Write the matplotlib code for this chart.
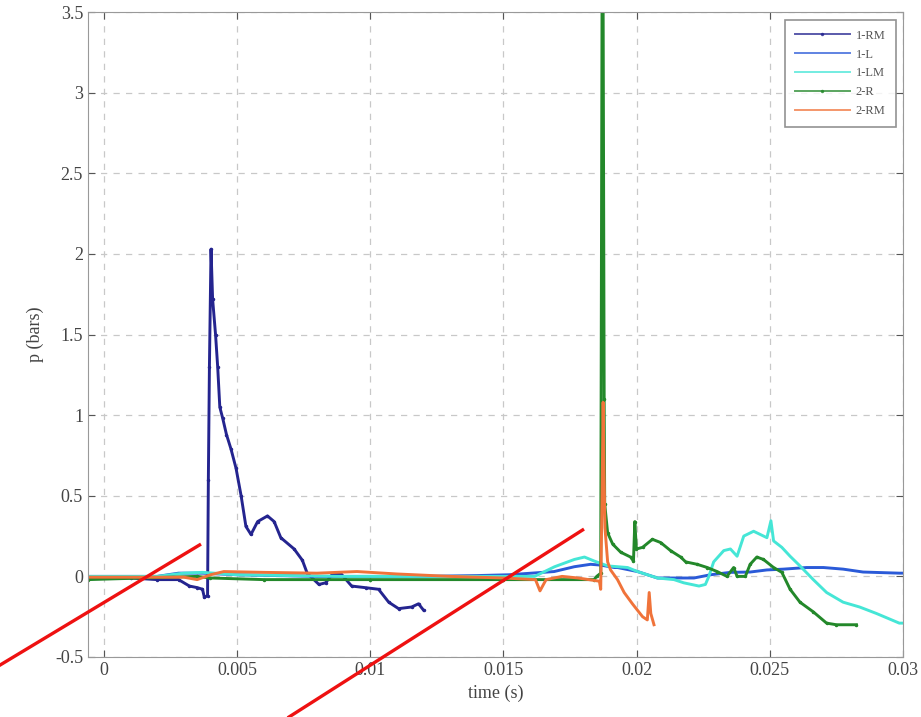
import matplotlib
matplotlib.use("Agg")
import matplotlib.pyplot as plt

plt.rcParams['font.family'] = ['Liberation Serif', 'DejaVu Serif']

# 1-RM
t_1rm = [-0.0006, 0.001, 0.002, 0.0028, 0.00321, 0.00351, 0.0037, 0.00377, 0.00389,
         0.00392, 0.00396, 0.00402, 0.00408, 0.00419, 0.00427, 0.00435, 0.00446,
         0.0046, 0.00477, 0.00496, 0.00515, 0.00533, 0.00552, 0.00577, 0.00614,
         0.00639, 0.00664, 0.00714, 0.00745, 0.00763, 0.00807, 0.00832, 0.00856,
         0.00888, 0.0093, 0.00982, 0.01031, 0.01069, 0.01106, 0.01155, 0.01181, 0.012]
p_1rm = [-0.01, -0.01, -0.02, -0.02, -0.06, -0.07, -0.08, -0.13, -0.12,
         0.6, 1.3, 2.03, 1.72, 1.50, 1.30, 1.05, 0.98,
         0.88, 0.79, 0.67, 0.50, 0.31, 0.26, 0.34, 0.375,
         0.34, 0.24, 0.17, 0.10, 0.02, -0.05, -0.04, 0.01,
         0.02, -0.06, -0.07, -0.08, -0.16, -0.20, -0.19, -0.17, -0.21]

# 1-L
t_1l = [-0.0006, 0.002, 0.0028, 0.0037, 0.005, 0.008, 0.012, 0.014, 0.0152, 0.0169,
        0.01766, 0.01827, 0.01865, 0.01916, 0.01928, 0.02003, 0.02078, 0.02146,
        0.02215, 0.02277, 0.02352, 0.02426, 0.02489, 0.02551, 0.02638, 0.02701,
        0.02775, 0.0285, 0.02986, 0.03]
p_1l = [0.0, 0.0, 0.02, 0.02, 0.01, 0.0, 0.0, 0.005, 0.01, 0.03,
        0.06, 0.075, 0.07, 0.055, 0.055, 0.03, -0.01, -0.01,
        -0.01, 0.01, 0.025, 0.027, 0.04, 0.045, 0.055, 0.055,
        0.045, 0.027, 0.02, 0.02]

# 1-LM
t_1lm = [-0.0006, 0.002, 0.003, 0.0037, 0.005, 0.009, 0.013, 0.01617, 0.01692,
         0.01766, 0.01804, 0.01841, 0.01891, 0.01966, 0.02003, 0.02078, 0.0214,
         0.02177, 0.02234, 0.02258, 0.02271, 0.02289, 0.02327, 0.02352, 0.02377,
         0.02402, 0.02439, 0.02489, 0.02504, 0.02514, 0.02545, 0.02576, 0.02613,
         0.02663, 0.02713, 0.02775, 0.02837, 0.029, 0.02986, 0.03]
p_1lm = [0.0, 0.0, 0.02, 0.025, 0.01, 0.0, 0.0, 0.0, 0.06,
         0.105, 0.12, 0.095, 0.065, 0.055, 0.03, -0.01, -0.02,
         -0.04, -0.06, -0.05, 0.0, 0.09, 0.16, 0.17, 0.125,
         0.25, 0.28, 0.24, 0.345, 0.22, 0.18, 0.125, 0.065,
         -0.02, -0.10, -0.16, -0.19, -0.23, -0.29, -0.29]

# 2-R
t_2r = [-0.0006, 0.0035, 0.004, 0.006, 0.01, 0.015, 0.0184, 0.0185, 0.01865, 0.0187,
        0.01874, 0.01878, 0.0188, 0.01891, 0.0191, 0.0194, 0.01977, 0.01988,
        0.01993, 0.01999, 0.02022, 0.02059, 0.0209, 0.02127, 0.02165, 0.02184,
        0.02227, 0.02265, 0.02302, 0.02339, 0.02364, 0.02377, 0.02408, 0.02426,
        0.02451, 0.02476, 0.02514, 0.02545, 0.02576, 0.02613, 0.02663, 0.02713,
        0.0275, 0.02825]
p_2r = [-0.02, 0.0, -0.01, -0.02, -0.02, -0.02, -0.02, 0.0, 0.02, 3.6,
        3.6, 1.1, 0.45, 0.27, 0.2, 0.15, 0.12, 0.095,
        0.34, 0.17, 0.18, 0.23, 0.21, 0.16, 0.12, 0.09,
        0.075, 0.055, 0.03, 0.0, 0.055, 0.0, 0.0, 0.075,
        0.12, 0.105, 0.055, 0.025, -0.08, -0.16, -0.22, -0.29,
        -0.30, -0.30]

# 2-RM
t_2rm = [-0.0006, 0.003, 0.0035, 0.004, 0.0045, 0.006, 0.008, 0.0095, 0.011, 0.013,
         0.015, 0.0162, 0.01637, 0.0166, 0.0172, 0.0178, 0.0186, 0.01865, 0.0187,
         0.01874, 0.01878, 0.01881, 0.01891, 0.01902, 0.01928, 0.01953, 0.01984,
         0.02022, 0.0204, 0.02047, 0.02053, 0.02065]
p_2rm = [-0.005, -0.005, -0.02, 0.01, 0.03, 0.025, 0.02, 0.03, 0.015, 0.0,
         -0.01, -0.02, -0.09, -0.02, 0.0, -0.01, -0.03, -0.08, 0.5,
         1.08, 0.6, 0.3, 0.09, 0.04, -0.02, -0.10, -0.17,
         -0.25, -0.27, -0.10, -0.23, -0.30]

labels = ['1-RM', '1-L', '1-LM', '2-R', '2-RM']
colors = ['#24248f', '#2a5ad8', '#45e6d6', '#23882a', '#f0733a']

# red annotation strokes laid over the chart
red_t = [[-0.00389, 0.00359], [0.00695, 0.01797]]
red_p = [[-0.549, 0.195], [-0.872, 0.288]]

fig = plt.figure(figsize=(9.21, 7.17), dpi=100)
ax = fig.add_axes([0.0955, 0.0837, 0.885, 0.8993])

series = [(t_1rm, p_1rm), (t_1l, p_1l), (t_1lm, p_1lm), (t_2r, p_2r), (t_2rm, p_2rm)]
for (t, p), lab, c in zip(series, labels, colors):
    mk = '.' if lab in ('1-RM', '2-R') else None
    ax.plot(t, p, color=c, lw=2.1, label=lab, marker=mk, ms=3)

ax.set_xlim(-0.0006, 0.03)
ax.set_ylim(-0.5, 3.5)
ax.set_xticks([0, 0.005, 0.01, 0.015, 0.02, 0.025, 0.03])
ax.set_xticklabels(['0', '0.005', '0.01', '0.015', '0.02', '0.025', '0.03'])
ax.set_yticks([-0.5, 0, 0.5, 1, 1.5, 2, 2.5, 3, 3.5])
ax.set_yticklabels(['-0.5', '0', '0.5', '1', '1.5', '2', '2.5', '3', '3.5'])
ax.grid(True, ls=(0, (5, 5)), color='#c8c8c8', lw=0.9)
ax.tick_params(direction='in', top=True, right=True, length=5, labelsize=13,
               colors='#555555', labelcolor='#444444')
for s in ax.spines.values():
    s.set_color('#999999')
ax.set_xlabel('time (s)', fontsize=13, color='#444444', labelpad=4)
ax.set_ylabel('p (bars)', fontsize=13, color='#444444', labelpad=8)

leg = ax.legend(loc='upper right', fontsize=9, handlelength=4.4, handletextpad=0.5,
                borderpad=0.8, labelspacing=0.55, frameon=True, fancybox=False,
                edgecolor='#777777', borderaxespad=0.6)
leg.get_frame().set_linewidth(1.2)
for ln in leg.get_lines():
    ln.set_linewidth(1.4)
    ln.set_alpha(0.75)
for txt in leg.get_texts():
    txt.set_color('#555555')

for t, p in zip(red_t, red_p):
    ax.plot(t, p, color='#ee1111', lw=2.4, clip_on=False, zorder=10)

fig.savefig('out.png', dpi=100)
